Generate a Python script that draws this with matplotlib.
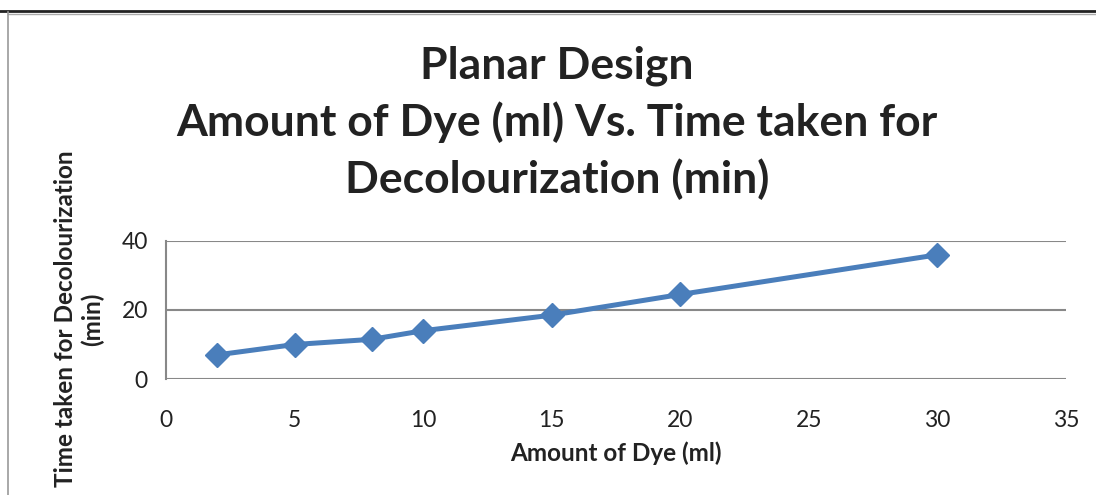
import matplotlib.pyplot as plt
from matplotlib.lines import Line2D

# data
dye_ml = [2, 5, 8, 10, 15, 20, 30]
time_min = [7, 10, 11.5, 14, 18.5, 24.5, 36]
x_ticks = [0, 5, 10, 15, 20, 25, 30, 35]
y_ticks = [0, 20, 40]

plt.rcParams['font.family'] = ['Lato', 'DejaVu Sans']

fig = plt.figure(figsize=(10.96, 4.95), dpi=100)
ax = fig.add_axes([166 / 1096, 1 - 379 / 495, 900 / 1096, 138 / 495])

ax.plot(dye_ml, time_min, color='#4A7EBB', linewidth=3.6, marker='D',
        markersize=12, markerfacecolor='#4A7EBB', markeredgecolor='#4A7EBB',
        zorder=3, clip_on=False)

ax.set_xlim(0, 35)
ax.set_ylim(0, 40)
ax.set_xticks(x_ticks)
ax.set_yticks(y_ticks)
ax.tick_params(length=0, labelsize=16.5, colors='#222222')
ax.tick_params(axis='x', pad=22)
ax.tick_params(axis='y', pad=13)
ax.grid(axis='y', color='#888888', linewidth=1.5)
ax.set_axisbelow(True)
for s in ['top', 'right', 'bottom']:
    ax.spines[s].set_visible(False)
ax.spines['left'].set_color('#888888')
ax.spines['left'].set_linewidth(1.5)

ax.set_xlabel('Amount of Dye (ml)', fontsize=17.5, fontweight='bold',
              color='#222222', labelpad=8)
fig.text(79 / 1096, 1 - 319 / 495, 'Time taken for Decolourization\n(min)',
         rotation=90, ha='center', va='center', fontsize=17.5,
         fontweight='bold', color='#222222', multialignment='center',
         linespacing=1.2)

fig.text(557 / 1096, 1 - 123 / 495,
         'Planar Design\nAmount of Dye (ml) Vs. Time taken for\nDecolourization (min)',
         ha='center', va='center', fontsize=32, fontweight='bold',
         color='#222222', linespacing=1.45)

# page frame lines
fig.add_artist(Line2D([0, 1], [1 - 11 / 495] * 2, transform=fig.transFigure,
                      color='#222222', linewidth=2))
fig.add_artist(Line2D([8 / 1096, 1], [1 - 13.5 / 495] * 2, transform=fig.transFigure,
                      color='#aaaaaa', linewidth=1))
fig.add_artist(Line2D([8 / 1096] * 2, [0, 1 - 12 / 495], transform=fig.transFigure,
                      color='#999999', linewidth=1.2))

fig.savefig('out.png', dpi=100)
